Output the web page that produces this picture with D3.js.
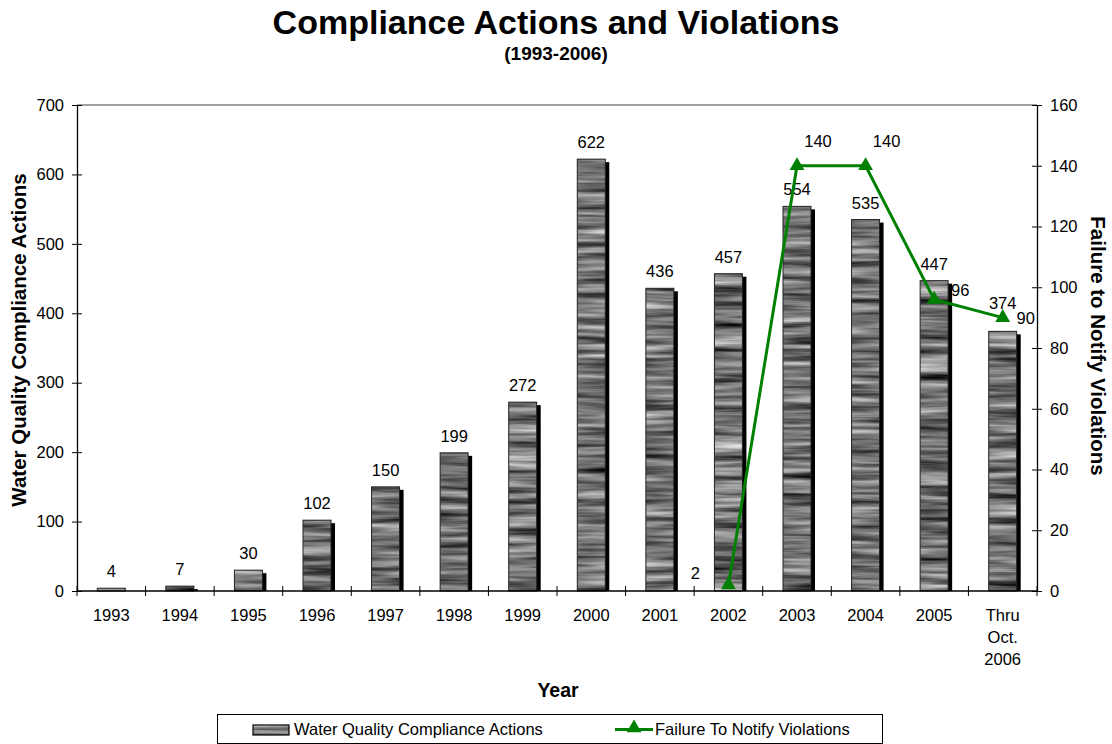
<!DOCTYPE html>
<html>
<head>
<meta charset="utf-8">
<script src="https://cdn.jsdelivr.net/npm/d3@7"></script>
<style>
  body { margin: 0; background: #fff; }
  svg text { font-family: "Liberation Sans", Arial, sans-serif; fill: #000; }
</style>
</head>
<body>
<div id="chart"></div>
<script>
// chart data
const years = ['1993', '1994', '1995', '1996', '1997', '1998', '1999', '2000',
               '2001', '2002', '2003', '2004', '2005', 'Thru Oct. 2006'];
const complianceActions = [4, 7, 30, 102, 150, 199, 272, 622, 436, 457, 554, 535, 447, 374];
const notifyViolations = [null, null, null, null, null, null, null, null, null, 2, 140, 140, 96, 90];
const leftTicks = [0, 100, 200, 300, 400, 500, 600, 700];
const rightTicks = [0, 20, 40, 60, 80, 100, 120, 140, 160];

const svgWidth = 1112;
const svgHeight = 744;
const margin = {top: 105, right: 75, bottom: 153, left: 77};
const chartWidth = svgWidth - margin.left - margin.right;
const chartHeight = svgHeight - margin.top - margin.bottom;
const green = '#008000';
const fontFam = '"Liberation Sans", Arial, sans-serif';
const labelSize = '16.5px';

const svg = d3.select('#chart').append('svg')
  .attr('width', svgWidth)
  .attr('height', svgHeight);

// wood-like grey texture for the bars
const defs = svg.append('defs');
const filt = defs.append('filter').attr('id', 'grain')
  .attr('color-interpolation-filters', 'sRGB')
  .attr('x', 0).attr('y', 0).attr('width', 1).attr('height', 1);
filt.append('feTurbulence')
  .attr('type', 'fractalNoise')
  .attr('baseFrequency', '0.01 0.16')
  .attr('numOctaves', 3)
  .attr('seed', 7)
  .attr('result', 'noise');
filt.append('feColorMatrix')
  .attr('in', 'noise')
  .attr('type', 'matrix')
  .attr('values', '1.1 0 0 0 -0.1  1.1 0 0 0 -0.1  1.1 0 0 0 -0.1  0 0 0 0 1')
  .attr('result', 'streaks');
filt.append('feComposite').attr('in', 'streaks').attr('in2', 'SourceGraphic')
  .attr('operator', 'in');

// title
svg.append('text').text('Compliance Actions and Violations')
  .attr('x', svgWidth / 2).attr('y', 34)
  .attr('text-anchor', 'middle')
  .style('font-size', '34px').style('font-weight', 'bold');
svg.append('text').text('(1993-2006)')
  .attr('x', svgWidth / 2).attr('y', 60)
  .attr('text-anchor', 'middle')
  .style('font-size', '19px').style('font-weight', 'bold');

const chart = svg.append('g')
  .attr('transform', `translate(${margin.left},${margin.top})`);

// scales
const xScale = d3.scaleBand().domain(years).range([0, chartWidth]);
const yLeft = d3.scaleLinear().domain([0, 700]).range([chartHeight, 0]);
const yRight = d3.scaleLinear().domain([0, 160]).range([chartHeight, 0]);

// gray top border of plot area
chart.append('line')
  .attr('x1', 0).attr('x2', chartWidth)
  .attr('y1', 0).attr('y2', 0)
  .attr('stroke', '#808080').attr('stroke-width', 1.5);

// bars: shadow then textured bar
const barWidth = 28;
const barX = i => xScale(years[i]) + xScale.bandwidth() / 2 - barWidth / 2;
const bars = chart.append('g');
bars.selectAll('.shadow').data(complianceActions).enter().append('rect')
  .attr('class', 'shadow')
  .attr('x', (d, i) => barX(i) + 4)
  .attr('y', d => yLeft(d) + 3)
  .attr('width', barWidth)
  .attr('height', d => Math.max(0, chartHeight - yLeft(d) - 3))
  .attr('fill', '#000');
bars.selectAll('.bar').data(complianceActions).enter().append('rect')
  .attr('class', 'bar')
  .attr('x', (d, i) => barX(i))
  .attr('y', d => yLeft(d))
  .attr('width', barWidth)
  .attr('height', d => chartHeight - yLeft(d))
  .attr('fill', '#8c8c8c')
  .attr('filter', 'url(#grain)');
bars.selectAll('.outline').data(complianceActions).enter().append('rect')
  .attr('class', 'outline')
  .attr('x', (d, i) => barX(i))
  .attr('y', d => yLeft(d))
  .attr('width', barWidth)
  .attr('height', d => chartHeight - yLeft(d))
  .attr('fill', 'none')
  .attr('stroke', '#222').attr('stroke-width', 1);

// bar value labels (last one lifted clear of the marker)
chart.selectAll('.barlabel').data(complianceActions).enter().append('text')
  .attr('x', (d, i) => xScale(years[i]) + xScale.bandwidth() / 2)
  .attr('y', (d, i) => yLeft(d) - (i === years.length - 1 ? 22 : 11))
  .attr('text-anchor', 'middle')
  .style('font-size', labelSize)
  .text(d => d);

// axes
const leftAxis = d3.axisLeft(yLeft).tickValues(leftTicks).tickSizeInner(5).tickSizeOuter(0).tickPadding(8);
const rightAxis = d3.axisRight(yRight).tickValues(rightTicks).tickSizeInner(5).tickSizeOuter(0).tickPadding(8);

const gl = chart.append('g').call(leftAxis);
gl.selectAll('.tick line').attr('x2', 5).attr('x1', -5);
const gr = chart.append('g').attr('transform', `translate(${chartWidth},0)`).call(rightAxis);
gr.selectAll('.tick line').attr('x1', -5).attr('x2', 5);
[gl, gr].forEach(g => {
  g.select('.domain').attr('stroke', '#000').attr('stroke-width', 1.3);
  g.selectAll('.tick text').style('font-size', labelSize).style('font-family', fontFam).attr('fill', '#000');
});

// x axis with ticks at band boundaries
const gx = chart.append('g').attr('transform', `translate(0,${chartHeight})`);
gx.append('line').attr('x1', 0).attr('x2', chartWidth)
  .attr('stroke', '#000').attr('stroke-width', 1.3);
const bounds = years.map(y => xScale(y)).concat([chartWidth]);
gx.selectAll('.xtick').data(bounds).enter().append('line')
  .attr('x1', d => d).attr('x2', d => d)
  .attr('y1', -5).attr('y2', 5)
  .attr('stroke', '#000');
gx.selectAll('.xlabel').data(years).enter().append('text')
  .attr('x', d => xScale(d) + xScale.bandwidth() / 2)
  .attr('y', 30)
  .attr('text-anchor', 'middle')
  .style('font-size', labelSize)
  .each(function(d) {
    const parts = d === 'Thru Oct. 2006' ? ['Thru', 'Oct.', '2006'] : [d];
    parts.forEach((p, k) => {
      d3.select(this).append('tspan')
        .attr('x', xScale(d) + xScale.bandwidth() / 2)
        .attr('dy', k === 0 ? 0 : 22)
        .text(p);
    });
  });

// line series on secondary axis
const lineData = notifyViolations.map((v, i) => ({year: years[i], v: v})).filter(d => d.v !== null);
const line = d3.line()
  .x(d => xScale(d.year) + xScale.bandwidth() / 2)
  .y(d => yRight(d.v));
chart.append('path').datum(lineData)
  .attr('d', line)
  .attr('fill', 'none')
  .attr('stroke', green)
  .attr('stroke-width', 3);
const tri = d3.symbol().type(d3.symbolTriangle).size(95);
chart.selectAll('.marker').data(lineData).enter().append('path')
  .attr('d', tri)
  .attr('transform', d => `translate(${xScale(d.year) + xScale.bandwidth() / 2},${yRight(d.v)})`)
  .attr('fill', green);

// line value labels, Excel-like placement
const labelShift = v => v === 2 ? [-33, -6] : v >= 140 ? [21, -19] : v === 96 ? [26, -3] : [23, 6];
chart.selectAll('.linelabel').data(lineData).enter().append('text')
  .attr('x', d => xScale(d.year) + xScale.bandwidth() / 2 + labelShift(d.v)[0])
  .attr('y', d => yRight(d.v) + labelShift(d.v)[1])
  .attr('text-anchor', 'middle')
  .style('font-size', labelSize)
  .text(d => d.v);

// axis titles
svg.append('text').text('Water Quality Compliance Actions')
  .attr('transform', 'translate(26,340) rotate(-90)')
  .attr('text-anchor', 'middle')
  .style('font-size', '20.5px').style('font-weight', 'bold');
svg.append('text').text('Failure to Notify Violations')
  .attr('transform', 'translate(1091,346) rotate(90)')
  .attr('text-anchor', 'middle')
  .style('font-size', '20.5px').style('font-weight', 'bold');
svg.append('text').text('Year')
  .attr('x', 558).attr('y', 697)
  .attr('text-anchor', 'middle')
  .style('font-size', '19.5px').style('font-weight', 'bold');

// legend
const legend = svg.append('g');
legend.append('rect')
  .attr('x', 217.5).attr('y', 714.5).attr('width', 665).attr('height', 29)
  .attr('fill', '#fff').attr('stroke', '#000').attr('stroke-width', 1);
legend.append('rect')
  .attr('x', 253).attr('y', 725).attr('width', 36).attr('height', 10)
  .attr('fill', '#8c8c8c').attr('filter', 'url(#grain)');
legend.append('rect')
  .attr('x', 253).attr('y', 725).attr('width', 36).attr('height', 10)
  .attr('fill', 'none').attr('stroke', '#000').attr('stroke-width', 1.2);
legend.append('text').text('Water Quality Compliance Actions')
  .attr('x', 294).attr('y', 735).style('font-size', labelSize);
legend.append('line')
  .attr('x1', 615).attr('x2', 653).attr('y1', 729.5).attr('y2', 729.5)
  .attr('stroke', green).attr('stroke-width', 3);
legend.append('path').attr('d', tri)
  .attr('transform', 'translate(634,728)').attr('fill', green);
legend.append('text').text('Failure To Notify Violations')
  .attr('x', 655).attr('y', 735).style('font-size', labelSize);
</script>
</body>
</html>
